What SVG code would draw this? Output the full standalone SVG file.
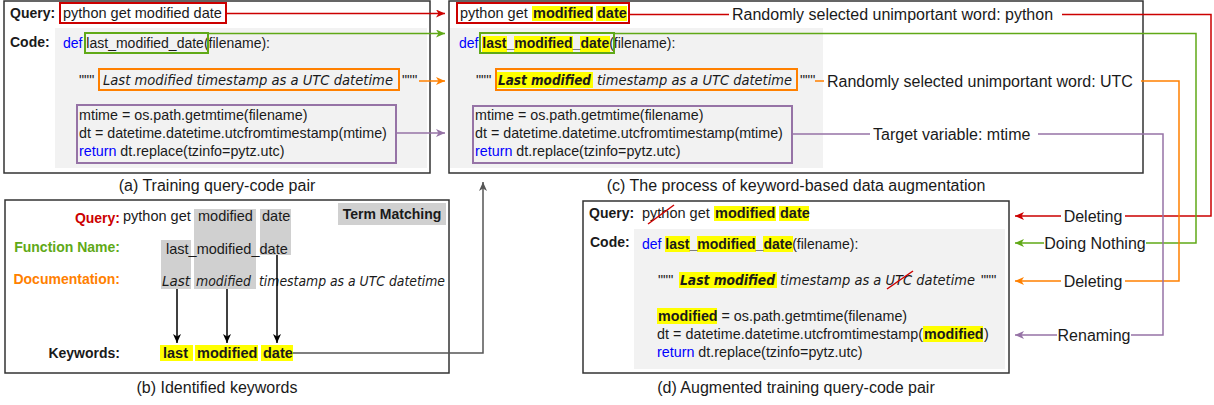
<svg xmlns="http://www.w3.org/2000/svg" width="1214" height="405" viewBox="0 0 1214 405">
  <style>
    text { font-family: "Liberation Sans", Arial, sans-serif; fill: #1a1a1a; }
    .panel { fill: #ffffff; stroke: #333333; stroke-width: 1.5; }
    .codebg { fill: #f2f2f2; }
    .lbl { font-size: 14px; font-weight: bold; }
    .q { font-size: 14.5px; }
    .code { font-size: 14.3px; }
    .sig { font-size: 14px; }
    .kw { fill: #0000ff; }
    .b { font-weight: bold; }
    .doc { font-family: "DejaVu Sans", sans-serif; font-style: italic; font-size: 13.5px; }
    .docb { font-family: "DejaVu Sans", sans-serif; font-style: italic; font-weight: bold; font-size: 13.5px; }
    .cap { font-size: 16px; text-anchor: middle; }
    .note { font-size: 16px; }
    .mid { text-anchor: middle; }
    .end { text-anchor: end; }
    .hl { fill: #ffff00; }
    .tm { fill: #d0d0d0; }
    .bg { fill: #ffffff; }
    .box { fill: none; stroke-width: 2; }
    .red { stroke: #cc0000; }
    .green { stroke: #60a917; }
    .orange { stroke: #ff8000; }
    .purple { stroke: #9673a6; }
    .wire { fill: none; stroke-width: 1.5; }
    .strike { stroke: #cc0000; stroke-width: 1.5; }
  </style>
  <defs>
    <marker id="ah-red" markerUnits="userSpaceOnUse" markerWidth="10" markerHeight="8" refX="9" refY="4" orient="auto"><path d="M0,0 L9,4 L0,8 L2.5,4 z" fill="#cc0000"/></marker>
    <marker id="ah-green" markerUnits="userSpaceOnUse" markerWidth="10" markerHeight="8" refX="9" refY="4" orient="auto"><path d="M0,0 L9,4 L0,8 L2.5,4 z" fill="#60a917"/></marker>
    <marker id="ah-orange" markerUnits="userSpaceOnUse" markerWidth="10" markerHeight="8" refX="9" refY="4" orient="auto"><path d="M0,0 L9,4 L0,8 L2.5,4 z" fill="#ff8000"/></marker>
    <marker id="ah-purple" markerUnits="userSpaceOnUse" markerWidth="10" markerHeight="8" refX="9" refY="4" orient="auto"><path d="M0,0 L9,4 L0,8 L2.5,4 z" fill="#9673a6"/></marker>
    <marker id="ah-black" markerUnits="userSpaceOnUse" markerWidth="10" markerHeight="8" refX="9" refY="4" orient="auto"><path d="M0,0 L9,4 L0,8 L2.5,4 z" fill="#000000"/></marker>
    <marker id="ah-gray" markerUnits="userSpaceOnUse" markerWidth="10" markerHeight="8" refX="9" refY="4" orient="auto"><path d="M0,0 L9,4 L0,8 L2.5,4 z" fill="#555555"/></marker>
  </defs>

  <rect width="1214" height="405" fill="#ffffff"/>

  <!-- (a) original query-code pair -->
  <g id="panel-a">
    <rect class="panel" x="4" y="1" width="426" height="172"/>
    <rect class="codebg" x="55" y="28" width="372" height="140"/>
    <text class="lbl" x="10" y="18">Query:</text>
    <text class="q" x="63" y="18">python get modified date</text>
    <rect class="box red" x="60" y="3" width="166" height="20"/>
    <text class="lbl" x="10" y="47">Code:</text>
    <text class="sig" x="63" y="48"><tspan class="kw">def</tspan> last_modified_date(filename):</text>
    <rect class="box green" x="85" y="33" width="123" height="20"/>
    <text class="code" x="79" y="85">"""</text>
    <text class="doc" x="103" y="85" textLength="290" lengthAdjust="spacingAndGlyphs">Last modified timestamp as a UTC datetime</text>
    <text class="code" x="402" y="85">"""</text>
    <rect class="box orange" x="99" y="69" width="300" height="21"/>
    <text class="code" x="79" y="120">mtime = os.path.getmtime(filename)</text>
    <text class="code" x="79" y="138">dt = datetime.datetime.utcfromtimestamp(mtime)</text>
    <text class="code" x="79" y="156"><tspan class="kw">return</tspan> dt.replace(tzinfo=pytz.utc)</text>
    <rect class="box purple" x="77" y="105" width="319" height="58"/>
    <text class="cap" x="217" y="191">(a) Training query-code pair</text>
  </g>

  <!-- (b) term matching of keywords -->
  <g id="panel-b">
    <rect class="panel" x="5" y="200" width="444" height="173"/>
    <rect class="tm" x="338" y="203" width="108" height="22"/>
    <text class="lbl mid" x="392" y="219">Term Matching</text>
    <rect class="tm" x="194" y="209" width="62" height="80"/>
    <rect class="tm" x="260" y="209" width="31" height="46"/>
    <rect class="tm" x="161" y="240" width="30" height="49"/>
    <text class="lbl end" x="120" y="223" style="fill:#cc0000">Query:</text>
    <text class="q" x="123" y="221">python get</text>
    <text class="q" x="198" y="221">modified</text>
    <text class="q" x="262" y="221">date</text>
    <text class="lbl end" x="120" y="252" style="fill:#60a917">Function Name:</text>
    <text class="q" x="166" y="254">last_modified_date</text>
    <text class="lbl end" x="120" y="284" style="fill:#ff8000">Documentation:</text>
    <text class="doc" x="162" y="286">Last</text>
    <text class="doc" x="196" y="286" textLength="55" lengthAdjust="spacingAndGlyphs">modified</text>
    <text class="doc" x="259" y="286" textLength="186" lengthAdjust="spacingAndGlyphs">timestamp as a UTC datetime</text>
    <g class="wire" style="stroke:#000000">
      <line x1="177" y1="289" x2="177" y2="343" marker-end="url(#ah-black)"/>
      <line x1="227" y1="289" x2="227" y2="343" marker-end="url(#ah-black)"/>
      <line x1="277" y1="255" x2="277" y2="343" marker-end="url(#ah-black)"/>
    </g>
    <text class="lbl end" x="120" y="358">Keywords:</text>
    <rect class="hl" x="160" y="345" width="33" height="16"/>
    <rect class="hl" x="195" y="345" width="63" height="16"/>
    <rect class="hl" x="261" y="345" width="32" height="16"/>
    <text class="q b" x="163" y="358">last</text>
    <text class="q b" x="197" y="358">modified</text>
    <text class="q b" x="263" y="358">date</text>
    <text class="cap" x="217" y="393">(b) Identified keywords</text>
  </g>

  <!-- (c) keyword-based augmentation steps -->
  <g id="panel-c">
    <rect class="panel" x="449" y="1" width="694" height="172"/>
    <rect class="codebg" x="450" y="28" width="373" height="140"/>
    <rect class="hl" x="532" y="6" width="61" height="15"/>
    <rect class="hl" x="596" y="6" width="31" height="15"/>
    <text class="q" x="460" y="18">python get</text>
    <text class="q b" x="533" y="18">modified</text>
    <text class="q b" x="597" y="18">date</text>
    <rect class="box red" x="457" y="3" width="172" height="20"/>
    <rect class="hl" x="482" y="36" width="25" height="16"/>
    <rect class="hl" x="514" y="36" width="59" height="16"/>
    <rect class="hl" x="580" y="36" width="30" height="16"/>
    <text class="sig" x="459" y="48"><tspan class="kw">def</tspan> <tspan class="b">last_modified_date</tspan>(filename):</text>
    <rect class="box green" x="480" y="33" width="134" height="20"/>
    <text class="code" x="476" y="85">"""</text>
    <rect class="hl" x="497" y="72" width="96" height="16"/>
    <text class="docb" x="498" y="85" textLength="93" lengthAdjust="spacingAndGlyphs">Last modified</text>
    <text class="doc" x="597" y="85" textLength="195" lengthAdjust="spacingAndGlyphs">timestamp as a UTC datetime</text>
    <text class="code" x="800" y="85">"""</text>
    <rect class="box orange" x="496" y="69" width="301" height="21"/>
    <text class="code" x="475" y="120">mtime = os.path.getmtime(filename)</text>
    <text class="code" x="475" y="138">dt = datetime.datetime.utcfromtimestamp(mtime)</text>
    <text class="code" x="475" y="156"><tspan class="kw">return</tspan> dt.replace(tzinfo=pytz.utc)</text>
    <rect class="box purple" x="473" y="106" width="319" height="57"/>
    <text class="cap" x="796" y="191">(c) The process of keyword-based data augmentation</text>
  </g>

  <!-- (d) augmented query-code pair -->
  <g id="panel-d">
    <rect class="panel" x="583" y="201" width="426" height="172"/>
    <rect class="codebg" x="634" y="229" width="371" height="140"/>
    <text class="lbl" x="589" y="218">Query:</text>
    <rect class="hl" x="714" y="206" width="62" height="15"/>
    <rect class="hl" x="779" y="206" width="30" height="15"/>
    <text class="q" x="642" y="218">python get</text>
    <text class="q b" x="715" y="218">modified</text>
    <text class="q b" x="780" y="218">date</text>
    <line class="strike" x1="648" y1="224" x2="674" y2="205"/>
    <text class="lbl" x="590" y="247">Code:</text>
    <rect class="hl" x="665" y="236" width="25" height="16"/>
    <rect class="hl" x="697" y="236" width="59" height="16"/>
    <rect class="hl" x="763" y="236" width="30" height="16"/>
    <text class="sig" x="642" y="249"><tspan class="kw">def</tspan> <tspan class="b">last_modified_date</tspan>(filename):</text>
    <text class="code" x="658" y="285">"""</text>
    <rect class="hl" x="679" y="272" width="98" height="16"/>
    <text class="docb" x="680" y="285" textLength="95" lengthAdjust="spacingAndGlyphs">Last modified</text>
    <text class="doc" x="780" y="285" textLength="195" lengthAdjust="spacingAndGlyphs">timestamp as a UTC datetime</text>
    <text class="code" x="981" y="285">"""</text>
    <line class="strike" x1="887" y1="289" x2="913" y2="271"/>
    <rect class="hl" x="657" y="308" width="60" height="16"/>
    <text class="code" x="658" y="321"><tspan class="b">modified</tspan> = os.path.getmtime(filename)</text>
    <rect class="hl" x="923" y="326" width="60" height="16"/>
    <text class="code" x="657" y="339" textLength="266" lengthAdjust="spacing">dt = datetime.datetime.utcfromtimestamp(</text>
    <text class="code b" x="924" y="339">modified</text>
    <text class="code" x="984" y="339">)</text>
    <text class="code" x="657" y="357"><tspan class="kw">return</tspan> dt.replace(tzinfo=pytz.utc)</text>
    <text class="cap" x="796" y="393">(d) Augmented training query-code pair</text>
  </g>

  <!-- connectors -->
  <g id="connectors">
    <path class="wire red" d="M226,13.5 H445" marker-end="url(#ah-red)"/>
    <path class="wire green" d="M208,33.5 H445" marker-end="url(#ah-green)"/>
    <path class="wire orange" d="M419,81 H445" marker-end="url(#ah-orange)"/>
    <path class="wire purple" d="M396,133 H445" marker-end="url(#ah-purple)"/>
    <path class="wire" d="M293,353 H483 V182" style="stroke:#555555" marker-end="url(#ah-gray)"/>

    <path class="wire red" d="M629,14.5 H1211 V216 H1015" marker-end="url(#ah-red)"/>
    <path class="wire green" d="M614,33.5 H1196 V243 H1015" marker-end="url(#ah-green)"/>
    <path class="wire orange" d="M815,81 H1179 V281 H1015" marker-end="url(#ah-orange)"/>
    <path class="wire purple" d="M792,134 H1163 V335 H1015" marker-end="url(#ah-purple)"/>

    <rect class="bg" x="729" y="5" width="333" height="19"/>
    <text class="note" x="732" y="20">Randomly selected unimportant word: python</text>
    <rect class="bg" x="824" y="72" width="317" height="19"/>
    <text class="note" x="827" y="87">Randomly selected unimportant word: UTC</text>
    <rect class="bg" x="870" y="125" width="168" height="19"/>
    <text class="note" x="873" y="140">Target variable: mtime</text>

    <rect class="bg" x="1061" y="207" width="64" height="19"/>
    <text class="note mid" x="1093" y="222">Deleting</text>
    <rect class="bg" x="1044" y="234" width="102" height="19"/>
    <text class="note mid" x="1095" y="249">Doing Nothing</text>
    <rect class="bg" x="1061" y="272" width="64" height="19"/>
    <text class="note mid" x="1093" y="287">Deleting</text>
    <rect class="bg" x="1057" y="326" width="74" height="19"/>
    <text class="note mid" x="1094" y="341">Renaming</text>
  </g>
</svg>
